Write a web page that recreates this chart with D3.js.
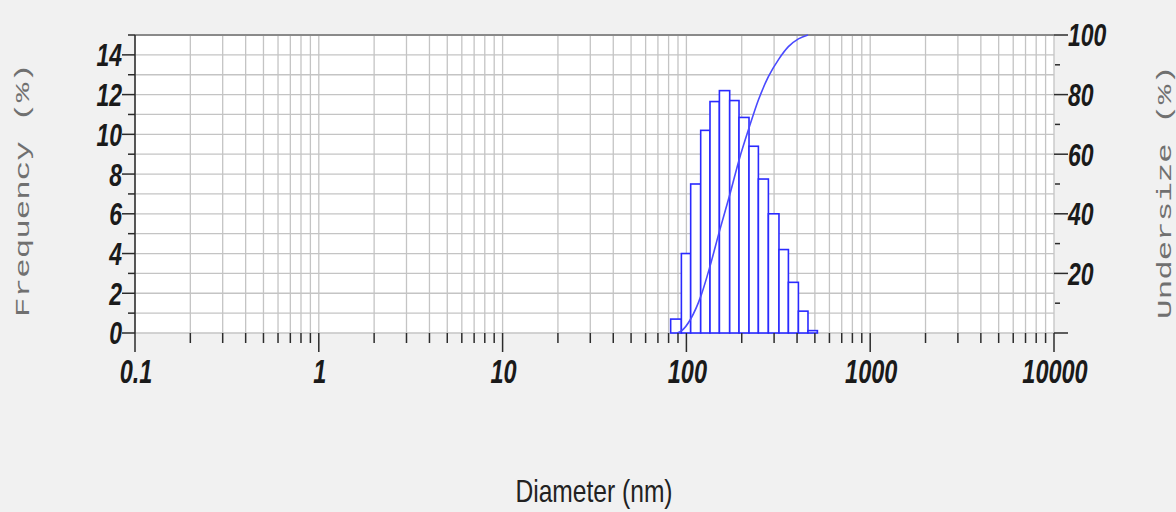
<!DOCTYPE html>
<html>
<head>
<meta charset="utf-8">
<script src="https://cdn.jsdelivr.net/npm/d3@7/dist/d3.min.js"></script>
<style>
  html, body { margin: 0; padding: 0; background: #f1f1f1; }
  svg { display: block; }
</style>
</head>
<body>
<svg id="chart" width="1176" height="512"></svg>
<script>
// ---- data ----
const binEdges = [82.1, 93.9, 105.5, 119.6, 134.4, 151.2, 172.0, 193.3, 219.1, 246.4, 279.3, 318.9, 358.9, 406.8, 458.7, 516.1];
const frequency = [0.7, 4.0, 7.5, 10.2, 11.65, 12.2, 11.7, 10.85, 9.4, 7.75, 6.0, 4.2, 2.55, 1.1, 0.12];
const undersizeDiam = [89, 93.9, 105.5, 119.6, 134.4, 151.2, 172.0, 193.3, 219.1, 246.4, 279.3, 318.9, 358.9, 406.8, 458.7];
const undersize = [0, 0.7, 4.7, 12.2, 22.4, 34.1, 46.3, 58.0, 68.8, 78.2, 86.0, 92.0, 96.1, 98.7, 100];
const xMajorTicks = [0.1, 1, 10, 100, 1000, 10000];
const xTickLabels = ["0.1", "1", "10", "100", "1000", "10000"];
const yLeftMajor = [0, 2, 4, 6, 8, 10, 12, 14];
const yLeftMinor = [1, 3, 5, 7, 9, 11, 13, 15];
const yRightMajor = [0, 20, 40, 60, 80, 100];
const yRightLabels = ["", "20", "40", "60", "80", "100"];
const yRightMinor = [10, 30, 50, 70, 90];

// ---- layout ----
const L = 135, R = 1054, T = 35, B = 333;
const svg = d3.select("#chart");

const x = d3.scaleLog().domain([0.1, 10000]).range([L, R]);
const yL = d3.scaleLinear().domain([0, 15]).range([B, T]);
const yR = d3.scaleLinear().domain([0, 100]).range([B, T]);

// minor x ticks (2..9 per decade)
const xMinor = [];
for (let e = -1; e < 4; e++) {
  for (let m = 2; m <= 9; m++) xMinor.push(m * Math.pow(10, e));
}

// plot background
svg.append("rect").attr("x", L).attr("y", T).attr("width", R - L).attr("height", B - T).attr("fill", "#ffffff");

// grid
const grid = svg.append("g").attr("stroke", "#c4c4c4").attr("stroke-width", 1.3);
grid.selectAll("line.vx").data(xMinor.concat(xMajorTicks)).join("line")
  .attr("x1", d => x(d)).attr("x2", d => x(d)).attr("y1", T).attr("y2", B);
grid.selectAll("line.hy").data(d3.range(0, 15)).join("line")
  .attr("x1", L).attr("x2", R).attr("y1", d => yL(d)).attr("y2", d => yL(d));
// top border
svg.append("line").attr("x1", L).attr("x2", R).attr("y1", T).attr("y2", T)
  .attr("stroke", "#8a8a8a").attr("stroke-width", 2);

// bars
const bins = frequency.map((v, i) => ({ x0: binEdges[i], x1: binEdges[i + 1], v }));
svg.append("g").selectAll("rect").data(bins).join("rect")
  .attr("x", d => x(d.x0)).attr("width", d => x(d.x1) - x(d.x0))
  .attr("y", d => yL(d.v)).attr("height", d => yL(0) - yL(d.v))
  .attr("fill", "#ffffff").attr("stroke", "#2a2aff").attr("stroke-width", 1.6);

// cumulative curve
const pts = undersizeDiam.map((d, i) => [x(d), yR(undersize[i])]);
svg.append("path")
  .attr("d", d3.line().curve(d3.curveMonotoneX)(pts))
  .attr("fill", "none").attr("stroke", "#4a4aff").attr("stroke-width", 1.6);

// axes ticks
const tick = svg.append("g").attr("stroke", "#2b2b2b").attr("stroke-width", 1.5);
tick.append("line").attr("x1", L).attr("x2", L).attr("y1", T).attr("y2", B);
tick.selectAll("line.lmj").data(yLeftMajor).join("line")
  .attr("x1", L - 13).attr("x2", L).attr("y1", d => yL(d)).attr("y2", d => yL(d));
tick.selectAll("line.lmn").data(yLeftMinor).join("line")
  .attr("x1", L - 7).attr("x2", L).attr("y1", d => yL(d)).attr("y2", d => yL(d));
tick.selectAll("line.rmj").data(yRightMajor).join("line")
  .attr("x1", R).attr("x2", R + 14).attr("y1", d => yR(d)).attr("y2", d => yR(d));
tick.selectAll("line.rmn").data(yRightMinor).join("line")
  .attr("x1", R + 1).attr("x2", R + 6).attr("y1", d => yR(d)).attr("y2", d => yR(d));
tick.selectAll("line.xmj").data(xMajorTicks).join("line")
  .attr("x1", d => x(d)).attr("x2", d => x(d)).attr("y1", B).attr("y2", B + 19);
tick.selectAll("line.xmn").data(xMinor).join("line")
  .attr("x1", d => x(d)).attr("x2", d => x(d)).attr("y1", B).attr("y2", B + 10);

// tick labels
const labFont = "'Liberation Sans', Arial, sans-serif";
svg.append("g").selectAll("g").data(yLeftMajor).join("g")
  .attr("transform", d => `translate(${L - 13},${yL(d)}) scale(1,1.38)`)
  .append("text").attr("text-anchor", "end").attr("dy", "0.36em")
  .attr("font-family", labFont).attr("font-weight", "bold").attr("font-style", "italic")
  .attr("font-size", 23).attr("fill", "#1a1a1a").text(d => d);

svg.append("g").selectAll("g").data(yRightMajor).join("g")
  .attr("transform", d => `translate(${R + 14},${yR(d)}) scale(1,1.38)`)
  .append("text").attr("text-anchor", "start").attr("dy", "0.36em")
  .attr("font-family", labFont).attr("font-weight", "bold").attr("font-style", "italic")
  .attr("font-size", 23).attr("fill", "#1a1a1a").text((d, i) => yRightLabels[i]);

svg.append("g").selectAll("g").data(xMajorTicks).join("g")
  .attr("transform", d => `translate(${x(d) + 1},383) scale(1,1.42)`)
  .append("text").attr("text-anchor", "middle")
  .attr("font-family", labFont).attr("font-weight", "bold").attr("font-style", "italic")
  .attr("font-size", 23.5).attr("fill", "#1a1a1a").text((d, i) => xTickLabels[i]);

// axis titles
svg.append("g").attr("transform", "translate(594,502) scale(1,1.25)")
  .append("text").attr("text-anchor", "middle")
  .attr("font-family", labFont).attr("font-size", 24.6).attr("fill", "#222")
  .text("Diameter (nm)");

const monoFont = "'Liberation Mono', 'DejaVu Sans Mono', monospace";
svg.append("g").attr("transform", "translate(22,190) rotate(-90) scale(1.55,1)")
  .append("text").attr("text-anchor", "middle").attr("dy", "0.35em")
  .attr("font-family", monoFont).attr("font-size", 21).attr("fill", "#707070")
  .text("Frequency (%)");
svg.append("g").attr("transform", "translate(1164,192) rotate(-90) scale(1.55,1)")
  .append("text").attr("text-anchor", "middle").attr("dy", "0.35em")
  .attr("font-family", monoFont).attr("font-size", 21).attr("fill", "#707070")
  .text("Undersize (%)");
</script>
</body>
</html>
